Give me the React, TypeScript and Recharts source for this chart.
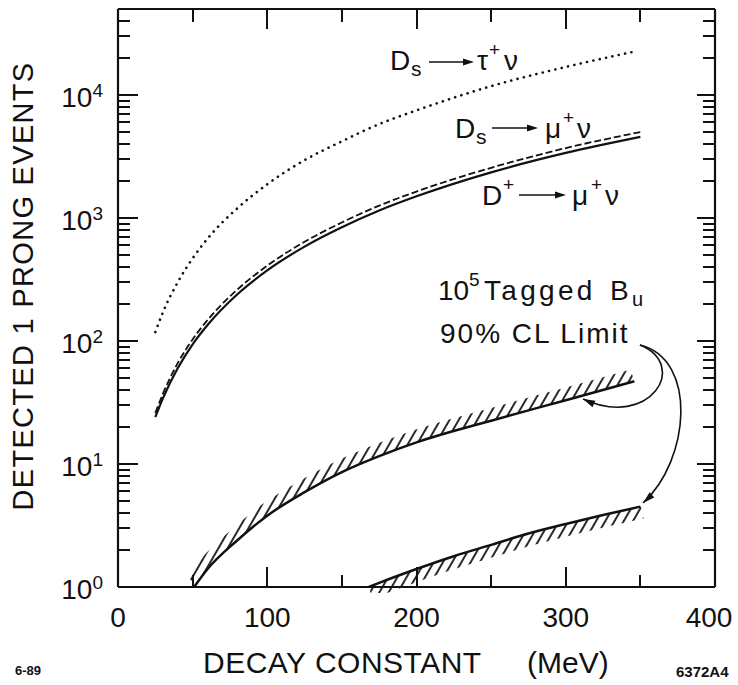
import { LineChart, Line, XAxis, YAxis, ReferenceLine } from "recharts";

const W = 738;
const H = 685;
// plot area: x 118..715, y 9..587 (each axis takes 1px of it)
const MARGIN = { top: 8, right: 22, bottom: 97, left: 117 };
const PLOT = { left: 118, top: 9, right: 715, bottom: 587 };
const FONT = '"Liberation Sans", Arial, Helvetica, sans-serif';
const INK = "#111";

// decay constant f (MeV) -> detected 1-prong events
const MU_X = [25, 30, 40, 50, 60, 80, 100, 125, 150, 175, 200, 250, 300, 350];
const DS_MU_NU = [26, 37, 66, 103, 148, 262, 410, 640, 920, 1260, 1640, 2560, 3700, 5000];
const DP_MU_NU = [24, 34, 60, 94, 135, 240, 375, 585, 840, 1150, 1500, 2350, 3380, 4560];

const TAU_X = [25, 30, 40, 50, 60, 80, 100, 125, 150, 175, 200, 250, 300, 345];
const DS_TAU_NU = [118, 170, 300, 470, 680, 1200, 1880, 2950, 4200, 5800, 7500, 11800, 16900, 22400];

// 90% CL limits for 10^5 tagged B_u
const LIMIT_HI_X = [51, 60, 80, 100, 125, 150, 175, 200, 250, 300, 346];
const LIMIT_HI = [1, 1.4, 2.4, 3.8, 5.9, 8.6, 11.6, 15, 22.5, 33, 47];
const LIMIT_LO_X = [168, 175, 200, 225, 250, 275, 300, 325, 350];
const LIMIT_LO = [1, 1.08, 1.4, 1.78, 2.2, 2.72, 3.25, 3.85, 4.5];

// arrow anchors (data units)
const ARROW_FROM = { f: 349.7, n: 92.8 };
const ARROW_TO_HI = { f: 311.6, n: 33.8 };
const ARROW_TO_LO = { f: 351.8, n: 4.82 };

const X_MIN = 0;
const X_MAX = 400;
const Y_MIN = 1;
const Y_MAX = 50000;
const X_TICKS = [0, 50, 100, 150, 200, 250, 300, 350, 400];
const X_INNER = [50, 100, 150, 200, 250, 300, 350];
const Y_DECADES = [1, 10, 100, 1000, 10000];
const Y_MINOR = [2, 3, 4, 5, 6, 7, 8, 9];
const Y_TOP_MINOR = [20000, 30000, 40000];
const Y_INNER = Y_DECADES.flatMap((d) =>
  d === 10000 ? [d, ...Y_TOP_MINOR] : [d, ...Y_MINOR.map((m) => m * d)]
).filter((v) => v > 1);

const toPoints = (xs: number[], ys: number[]) => xs.map((f, i) => ({ f, n: ys[i] }));

const tau = toPoints(TAU_X, DS_TAU_NU);
const dsMu = toPoints(MU_X, DS_MU_NU);
const dpMu = toPoints(MU_X, DP_MU_NU);
const limHi = toPoints(LIMIT_HI_X, LIMIT_HI);
const limLo = toPoints(LIMIT_LO_X, LIMIT_LO);

// same mapping as the chart axes, used for the frame's inward tick marks
const px = (f: number) => PLOT.left + ((f - X_MIN) / (X_MAX - X_MIN)) * (PLOT.right - PLOT.left);
const py = (n: number) =>
  PLOT.bottom - (Math.log10(n / Y_MIN) / Math.log10(Y_MAX / Y_MIN)) * (PLOT.bottom - PLOT.top);

function BottomLabel(props: any) {
  const { x, payload } = props;
  const v = payload.value;
  if (v % 100 !== 0) return <g />;
  return (
    <text x={x + (v === 400 ? -6 : 0)} y={627} textAnchor="middle" fontSize={28} fontFamily={FONT} fill={INK}>
      {v}
    </text>
  );
}

function LeftLabel(props: any) {
  const { y, payload } = props;
  const exp = Y_DECADES.indexOf(payload.value);
  return (
    <text x={103} y={y + 12} textAnchor="end" fontSize={28} fontFamily={FONT} fill={INK}>
      10<tspan dy={-10} fontSize={19}>{exp}</tspan>
    </text>
  );
}

// inward tick marks as thin filled rectangles
function FrameTicks() {
  const t = 2;
  const marks: any[] = [];
  X_INNER.forEach((f) => {
    const x = Math.round(px(f)) - t / 2;
    const major = f % 100 === 0;
    const lb = major ? 20 : 12;
    const lt = major ? 20 : 13;
    marks.push(<rect key={`b${f}`} x={x} y={PLOT.bottom - lb} width={t} height={lb} fill={INK} />);
    marks.push(<rect key={`t${f}`} x={x} y={PLOT.top} width={t} height={lt} fill={INK} />);
  });
  Y_INNER.forEach((n) => {
    const y = Math.round(py(n)) - t / 2;
    const major = Y_DECADES.includes(n);
    const ll = major ? 20 : 12;
    const lr = major ? 18 : 12;
    marks.push(<rect key={`l${n}`} x={PLOT.left} y={y} width={ll} height={t} fill={INK} />);
    marks.push(<rect key={`r${n}`} x={PLOT.right - lr} y={y} width={lr} height={t} fill={INK} />);
  });
  return <g>{marks}</g>;
}

// curved annotation arrow; control points are offsets from the two ends
const curvedArrow = (c1: number[], c2: number[]) => (p: any) => {
  const { x1, y1, x2, y2 } = p;
  const ax = x1 + c1[0], ay = y1 + c1[1];
  const bx = x2 + c2[0], by = y2 + c2[1];
  const ang = Math.atan2(y2 - by, x2 - bx);
  const len = 12, hw = 3.5;
  const hx = x2 - len * Math.cos(ang), hy = y2 - len * Math.sin(ang);
  const head = [
    [x2, y2],
    [hx - hw * Math.sin(ang), hy + hw * Math.cos(ang)],
    [hx + hw * Math.sin(ang), hy - hw * Math.cos(ang)],
  ].map((q) => q.join(",")).join(" ");
  return (
    <g>
      <path d={`M${x1},${y1} C${ax},${ay} ${bx},${by} ${x2},${y2}`} fill="none" stroke={INK} strokeWidth={1.6} />
      <polygon points={head} fill={INK} />
    </g>
  );
};

function Arrow({ x1, x2, y }: { x1: number; x2: number; y: number }) {
  return (
    <g>
      <line x1={x1} x2={x2 - 8} y1={y} y2={y} stroke={INK} strokeWidth={1.6} />
      <polygon points={`${x2},${y} ${x2 - 11},${y - 3.5} ${x2 - 11},${y + 3.5}`} fill={INK} />
    </g>
  );
}

function T({ x, y, s = 28, ls = 0, children }: { x: number; y: number; s?: number; ls?: number; children: any }) {
  return (
    <text x={x} y={y} fontSize={s} letterSpacing={ls} fontFamily={FONT} fill={INK}>
      {children}
    </text>
  );
}

function Annotations() {
  return (
    <svg width={W} height={H} style={{ position: "absolute", left: 0, top: 0, pointerEvents: "none" }}>
      <FrameTicks />

      {/* Ds -> tau nu */}
      <T x={390} y={70}>D</T>
      <T x={411} y={76} s={21}>s</T>
      <Arrow x1={429} x2={474} y={62} />
      <T x={477} y={70}>τ</T>
      <T x={489} y={56} s={19}>+</T>
      <T x={504} y={70}>ν</T>

      {/* Ds -> mu nu */}
      <T x={455} y={138}>D</T>
      <T x={476} y={144} s={21}>s</T>
      <Arrow x1={492} x2={538} y={128} />
      <T x={545} y={138}>μ</T>
      <T x={563} y={124} s={19}>+</T>
      <T x={577} y={138}>ν</T>

      {/* D+ -> mu nu */}
      <T x={482} y={205}>D</T>
      <T x={503} y={191} s={19}>+</T>
      <Arrow x1={519} x2={566} y={195} />
      <T x={572} y={205}>μ</T>
      <T x={591} y={191} s={19}>+</T>
      <T x={605} y={205}>ν</T>

      {/* limit label */}
      <T x={438} y={300}>10</T>
      <T x={469} y={286} s={19}>5</T>
      <T x={484} y={300} ls={3.3}>Tagged</T>
      <T x={610} y={300}>B</T>
      <T x={632} y={306} s={20}>u</T>
      <T x={440} y={343} ls={2}>90% CL Limit</T>

      {/* axis titles */}
      <text transform="rotate(-90)" x={-286} y={33} textAnchor="middle" fontSize={29} letterSpacing={1.3} fontFamily={FONT} fill={INK}>
        DETECTED 1 PRONG EVENTS
      </text>
      <T x={203} y={673} s={30} ls={0.5}>DECAY CONSTANT</T>
      <T x={527} y={673} s={30}>(MeV)</T>

      <text x={15} y={675} fontSize={13} fontWeight="bold" fontFamily={FONT} fill={INK}>6-89</text>
      <text x={676} y={677} fontSize={15} fontWeight="bold" fontFamily={FONT} fill={INK}>6372A4</text>
    </svg>
  );
}

const AXIS_LINE = { stroke: INK, strokeWidth: 2.2 };

export default function App() {
  return (
    <div style={{ position: "relative", width: W, height: H, background: "#fff" }}>
      <style>{`
        body { margin: 0; }
        .hatch-up .recharts-line-curve { transform: translate(-2px, -6px); }
        .hatch-down .recharts-line-curve { transform: translate(2px, 6px); }
      `}</style>
      <svg width={0} height={0} style={{ position: "absolute" }}>
        <defs>
          <pattern id="hatch" patternUnits="userSpaceOnUse" width={8} height={10} patternTransform="rotate(30)">
            <line x1={4} x2={4} y1={-1} y2={11} stroke={INK} strokeWidth={1.8} />
          </pattern>
        </defs>
      </svg>
      <LineChart width={W} height={H} margin={MARGIN}>
        <XAxis
          dataKey="f" type="number" domain={[X_MIN, X_MAX]} ticks={X_TICKS} interval={0}
          allowDataOverflow height={1} tickLine={false} axisLine={AXIS_LINE} tick={BottomLabel}
        />
        <XAxis
          xAxisId="top" orientation="top" dataKey="f" type="number" domain={[X_MIN, X_MAX]}
          allowDataOverflow height={1} tickLine={false} axisLine={AXIS_LINE} tick={false}
        />
        <YAxis
          scale="log" type="number" domain={[Y_MIN, Y_MAX]} ticks={Y_DECADES} interval={0}
          allowDataOverflow width={1} tickLine={false} axisLine={AXIS_LINE} tick={LeftLabel}
        />
        <YAxis
          yAxisId="right" orientation="right" scale="log" type="number" domain={[Y_MIN, Y_MAX]}
          allowDataOverflow width={1} tickLine={false} axisLine={AXIS_LINE} tick={false}
        />

        <Line data={tau} dataKey="n" type="monotone" stroke={INK} strokeWidth={2.6} strokeDasharray="0.1 6.4"
          strokeLinecap="round" dot={false} activeDot={false} isAnimationActive={false} />
        <Line data={dsMu} dataKey="n" type="monotone" stroke={INK} strokeWidth={1.8} strokeDasharray="7 3"
          dot={false} activeDot={false} isAnimationActive={false} />
        <Line data={dpMu} dataKey="n" type="monotone" stroke={INK} strokeWidth={2.2}
          dot={false} activeDot={false} isAnimationActive={false} />

        <Line data={limHi} dataKey="n" type="monotone" className="hatch-up" stroke="url(#hatch)" strokeWidth={12}
          dot={false} activeDot={false} isAnimationActive={false} />
        <Line data={limHi} dataKey="n" type="monotone" stroke={INK} strokeWidth={2.5}
          dot={false} activeDot={false} isAnimationActive={false} />
        <Line data={limLo} dataKey="n" type="monotone" className="hatch-down" stroke="url(#hatch)" strokeWidth={12}
          dot={false} activeDot={false} isAnimationActive={false} />
        <Line data={limLo} dataKey="n" type="monotone" stroke={INK} strokeWidth={2.5}
          dot={false} activeDot={false} isAnimationActive={false} />

        <ReferenceLine
          segment={[{ x: ARROW_FROM.f, y: ARROW_FROM.n }, { x: ARROW_TO_HI.f, y: ARROW_TO_HI.n }]}
          ifOverflow="visible" shape={curvedArrow([50, 20], [67, 31])}
        />
        <ReferenceLine
          segment={[{ x: ARROW_FROM.f, y: ARROW_FROM.n }, { x: ARROW_TO_LO.f, y: ARROW_TO_LO.n }]}
          ifOverflow="visible" shape={curvedArrow([58, 14], [47, -43])}
        />
      </LineChart>
      <Annotations />
    </div>
  );
}
